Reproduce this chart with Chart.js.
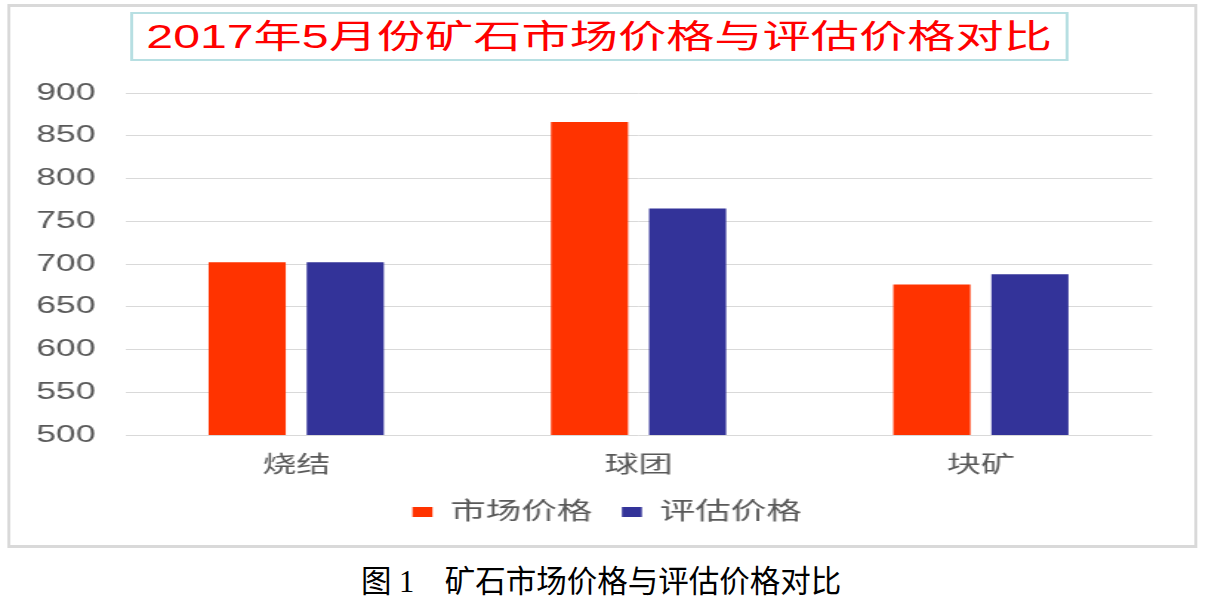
<!DOCTYPE html>
<html>
<head>
<meta charset="utf-8">
<script src="https://cdn.jsdelivr.net/npm/chart.js@4.4.0/dist/chart.umd.min.js"></script>
<style>
  html, body { margin: 0; padding: 0; background: #fff; }
  body { width: 1210px; height: 598px; position: relative; overflow: hidden; }
  #stage {
    position: absolute; left: 0; top: 0; width: 818px; height: 550px;
    transform: scaleX(1.48); transform-origin: 0 0;
  }
  #frame {
    position: absolute; left: 5.4px; top: 4px; width: 804px; height: 544px;
    box-sizing: border-box; border: 3px solid #d9d9d9; border-left-width: 2px; border-right-width: 2px;
  }
  #chart { position: absolute; left: 0; top: 0; }
  #title {
    position: absolute; left: 87.8px; top: 12px; width: 634px; height: 49px;
    box-sizing: border-box; border: 2px solid #b7dfe2; background: #fff;
    font-family: "Liberation Sans", "Noto Sans CJK SC", sans-serif;
    font-size: 32.6px; color: #ff0000; text-align: center; line-height: 45px;
  }
  #caption {
    position: absolute; left: 361px; top: 557px;
    font-family: "Liberation Serif", "Noto Sans CJK SC", serif;
    font-size: 30.5px; color: #000; white-space: pre;
  }
</style>
</head>
<body>
<div id="stage">
  <div id="frame"></div>
  <canvas id="chart" width="818" height="550"></canvas>
  <div id="title">2017年5月份矿石市场价格与评估价格对比</div>
</div>
<div id="caption">图 1　矿石市场价格与评估价格对比</div>
<script>
const categories = ['烧结', '球团', '块矿'];
const seriesNames = ['市场价格', '评估价格'];
const marketPrice = [702, 866, 676];
const assessedPrice = [702, 765, 688];
const yMin = 500;
const yMax = 900;
const yStep = 50;

const fontFamily = "'Liberation Sans', 'Noto Sans CJK SC', sans-serif";
const textGray = '#595959';

// the legend sits centred on the whole frame, not on the plot area
const legendShift = {
  id: 'legendShift',
  afterLayout(chart) {
    const lg = chart.legend;
    if (lg) { lg.left += 21; lg.right += 21; }
  }
};

const ctx = document.getElementById('chart').getContext('2d');
new Chart(ctx, {
  type: 'bar',
  data: {
    labels: categories,
    datasets: [
      {
        label: seriesNames[0],
        data: marketPrice,
        backgroundColor: '#ff3300',
        categoryPercentage: 0.573,
        barPercentage: 0.786
      },
      {
        label: seriesNames[1],
        data: assessedPrice,
        backgroundColor: '#333399',
        categoryPercentage: 0.573,
        barPercentage: 0.786
      }
    ]
  },
  plugins: [legendShift],
  options: {
    responsive: false,
    animation: false,
    layout: {
      padding: { left: 0, right: 39.6, top: 93, bottom: 16 }
    },
    plugins: {
      title: { display: false },
      tooltip: { enabled: false },
      legend: {
        position: 'bottom',
        labels: {
          boxWidth: 13.5,
          boxHeight: 10,
          padding: 20,
          color: textGray,
          font: { family: fontFamily, size: 24 }
        }
      }
    },
    scales: {
      x: {
        grid: { display: false },
        border: { display: false },
        ticks: {
          color: textGray,
          padding: 9,
          font: { family: fontFamily, size: 23 }
        },
        afterFit: (scale) => { scale.height = 45; }
      },
      y: {
        min: yMin,
        max: yMax,
        border: { display: false },
        grid: { color: '#d9d9d9', lineWidth: 1, drawTicks: false },
        ticks: {
          stepSize: yStep,
          color: textGray,
          padding: 20,
          font: { family: fontFamily, size: 24 }
        },
        afterFit: (scale) => { scale.width = 84.5; }
      }
    }
  }
});
</script>
</body>
</html>
